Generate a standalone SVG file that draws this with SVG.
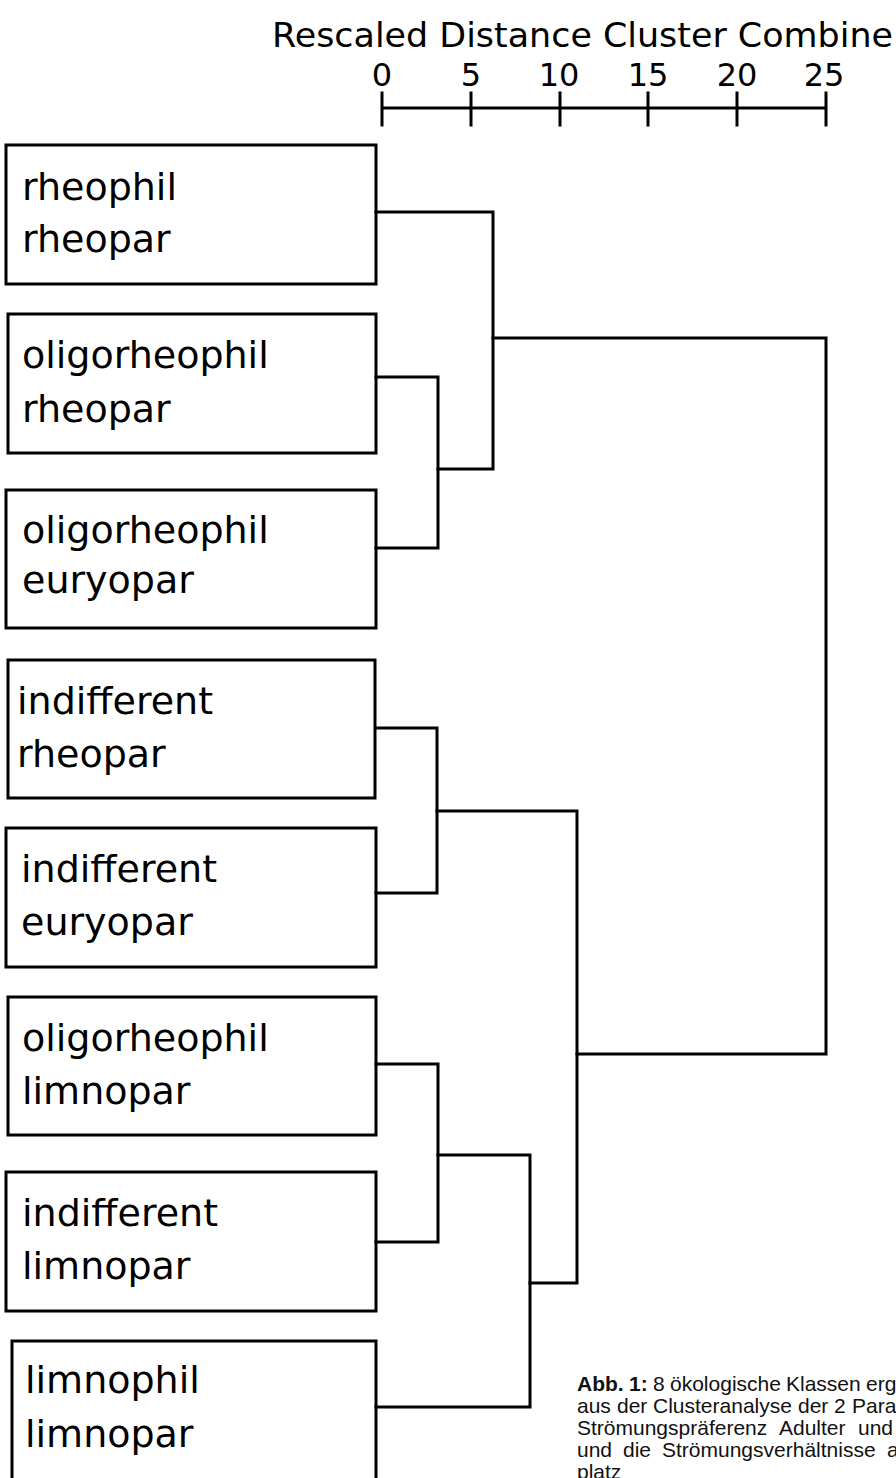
<svg xmlns="http://www.w3.org/2000/svg" width="896" height="1478" viewBox="0 0 896 1478">
<style>
.box{fill:#fff;stroke:#000;stroke-width:3}
.lbl{font-family:"DejaVu Sans",sans-serif;font-size:38px;fill:#000}
.ax{font-family:"DejaVu Sans",sans-serif;fill:#000}
.con{fill:none;stroke:#000;stroke-width:3;stroke-linecap:square}
.cap{font-family:"Liberation Sans",Arial,sans-serif;font-size:21px;fill:#111}
</style>
<rect width="896" height="1478" fill="#fff"/>
<g id="scale">
<text class="ax" x="272" y="47" font-size="34" textLength="621" lengthAdjust="spacingAndGlyphs">Rescaled Distance Cluster Combine</text>
<g font-size="32" text-anchor="middle" class="ax">
<text class="ax" x="382" y="86">0</text>
<text class="ax" x="471" y="86">5</text>
<text class="ax" x="559" y="86">10</text>
<text class="ax" x="648" y="86">15</text>
<text class="ax" x="737" y="86">20</text>
<text class="ax" x="824" y="86">25</text>
</g>
<path class="con" d="M382,108 H826 M382,93 V125 M471,93 V125 M560,93 V125 M648,93 V125 M737,93 V125 M826,93 V125"/>
</g>
<g id="n1"><rect class="box" x="6" y="145" width="370" height="139"/><text class="lbl" x="22" y="200">rheophil</text><text class="lbl" x="22" y="252">rheopar</text></g>
<g id="n2"><rect class="box" x="8" y="314" width="368" height="139"/><text class="lbl" x="22" y="368">oligorheophil</text><text class="lbl" x="22" y="422">rheopar</text></g>
<g id="n3"><rect class="box" x="6" y="490" width="370" height="138"/><text class="lbl" x="22" y="543">oligorheophil</text><text class="lbl" x="22" y="593">euryopar</text></g>
<g id="n4"><rect class="box" x="8" y="660" width="367" height="138"/><text class="lbl" x="17" y="714">indifferent</text><text class="lbl" x="17" y="767">rheopar</text></g>
<g id="n5"><rect class="box" x="6" y="828" width="370" height="139"/><text class="lbl" x="21" y="882">indifferent</text><text class="lbl" x="21" y="935">euryopar</text></g>
<g id="n6"><rect class="box" x="8" y="997" width="368" height="138"/><text class="lbl" x="22" y="1051">oligorheophil</text><text class="lbl" x="22" y="1104">limnopar</text></g>
<g id="n7"><rect class="box" x="6" y="1172" width="370" height="139"/><text class="lbl" x="22" y="1226">indifferent</text><text class="lbl" x="22" y="1279">limnopar</text></g>
<g id="n8"><path class="box" d="M12,1480 V1341 H376 V1480"/><text class="lbl" x="25" y="1393">limnophil</text><text class="lbl" x="25" y="1447">limnopar</text></g>
<g id="connectors">
<path class="con" d="M376,212 H493 V469 H438"/>
<path class="con" d="M376,377 H438 V548 H376"/>
<path class="con" d="M493,338 H826 V1054 H577"/>
<path class="con" d="M376,728 H437 V893 H376"/>
<path class="con" d="M437,811 H577 V1283 H530"/>
<path class="con" d="M376,1064 H438 V1242 H376"/>
<path class="con" d="M438,1155 H530 V1407 H376"/>
</g>
<g id="caption" class="cap">
<text y="1391"><tspan x="577" font-weight="bold">Abb.</tspan><tspan x="629" font-weight="bold">1:</tspan><tspan x="653">8</tspan><tspan x="670">ökologische</tspan><tspan x="786">Klassen</tspan><tspan x="866">erg</tspan></text>
<text y="1413"><tspan x="577">aus</tspan><tspan x="617">der</tspan><tspan x="653">Clusteranalyse</tspan><tspan x="798">der</tspan><tspan x="834">2</tspan><tspan x="852">Para</tspan></text>
<text y="1435"><tspan x="577">Strömungspräferenz</tspan><tspan x="779">Adulter</tspan><tspan x="858">und</tspan></text>
<text y="1457"><tspan x="577">und</tspan><tspan x="623">die</tspan><tspan x="662">Strömungsverhältnisse</tspan><tspan x="887">a</tspan></text>
<text x="577" y="1479">platz</text>
</g>
</svg>
